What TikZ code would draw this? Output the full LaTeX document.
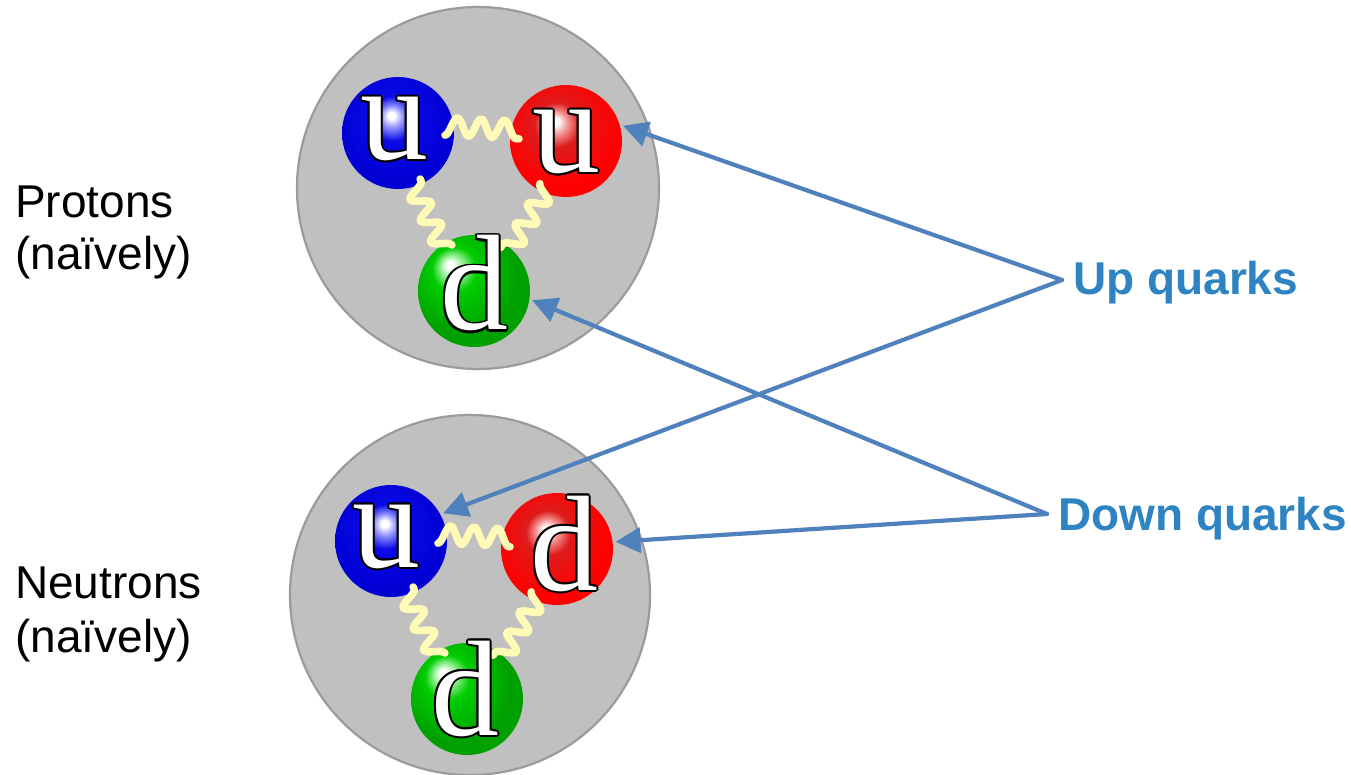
\documentclass[tikz,border=0pt]{standalone}
\usepackage{fontspec}
\setmainfont{Liberation Sans}
\newfontfamily\quarkfont{Liberation Serif}
\usetikzlibrary{arrows.meta,decorations,calc}

% palette
\definecolor{hadronfill}{RGB}{192,192,192}
\definecolor{hadronrim}{RGB}{155,155,155}
\definecolor{arrowblue}{RGB}{79,129,189}
\definecolor{labelblue}{RGB}{46,131,194}
\definecolor{gluoncol}{RGB}{255,250,182}
\definecolor{bluehi}{RGB}{140,140,255}
\definecolor{bluemid}{RGB}{10,10,230}
\definecolor{blueedge}{RGB}{0,0,212}
\definecolor{redhi}{RGB}{245,150,150}
\definecolor{redmid}{RGB}{222,28,28}
\definecolor{rededge}{RGB}{255,0,0}
\definecolor{greenhi}{RGB}{150,240,150}
\definecolor{greenmid}{RGB}{0,205,0}
\definecolor{greenedge}{RGB}{0,160,0}

% glossy quark balls, highlight up and to the left
\pgfdeclareradialshading{qblue}{\pgfpoint{-3bp}{8bp}}{color(0bp)=(white); color(1.5bp)=(white); color(5bp)=(bluehi); color(10bp)=(bluemid); color(25bp)=(blueedge); color(50bp)=(blueedge)}
\pgfdeclareradialshading{qred}{\pgfpoint{-5bp}{9bp}}{color(0bp)=(white); color(1.5bp)=(white); color(5bp)=(redhi); color(10bp)=(redmid); color(25bp)=(rededge); color(50bp)=(rededge)}
\pgfdeclareradialshading{qgreen}{\pgfpoint{-11bp}{12bp}}{color(0bp)=(white); color(1.5bp)=(white); color(5bp)=(greenhi); color(10bp)=(greenmid); color(25bp)=(greenedge); color(50bp)=(greenedge)}

% one period of a one-sided wave: trough -> crest -> trough, crest on the left
\newcommand\gluonperiod{%
  \pgfpathcurveto{\pgfpoint{0.182*\pgfdecorationsegmentlength}{0pt}}%
                 {\pgfpoint{0.318*\pgfdecorationsegmentlength}{\pgfdecorationsegmentamplitude}}%
                 {\pgfpoint{0.5*\pgfdecorationsegmentlength}{\pgfdecorationsegmentamplitude}}%
  \pgfpathcurveto{\pgfpoint{0.682*\pgfdecorationsegmentlength}{\pgfdecorationsegmentamplitude}}%
                 {\pgfpoint{0.818*\pgfdecorationsegmentlength}{0pt}}%
                 {\pgfpoint{\pgfdecorationsegmentlength}{0pt}}}
\pgfdeclaredecoration{gluonwave}{first}{
  \state{first}[width=\pgfdecorationsegmentlength, next state=wave]{
    \pgfpathmoveto{\pgfpointorigin}\gluonperiod}
  \state{wave}[switch if less than=\pgfdecorationsegmentlength to final,
               width=\pgfdecorationsegmentlength]{\gluonperiod}
  \state{final}{\pgfpathlineto{\pgfpointdecoratedpathlast}}
}

\tikzset{
  hadron/.style={circle, inner sep=0pt, fill=hadronfill, draw=hadronrim, line width=2.2pt},
  quark/.style={circle, minimum size=112pt, inner sep=0pt, outer sep=3pt},
  gluon/.style={draw=gluoncol, line width=7.5pt, line cap=round, line join=round,
    decorate, decoration={gluonwave, segment length=23.6pt, amplitude=18pt}},
  qtext/.style={anchor=base, inner sep=0pt, font=\quarkfont\fontsize{136}{136}\selectfont},
  sidelabel/.style={anchor=base west, inner sep=0pt, font=\fontsize{46}{46}\selectfont},
  flavour/.style={anchor=base west, inner sep=0pt, text=labelblue,
    font=\bfseries\fontsize{46}{46}\selectfont},
  qarrow/.style={draw=arrowblue, line width=4.2pt, line cap=round,
    -{Triangle[length=25pt,width=25pt]}},
}

% white letter with a thin black outline
\newcommand\quarkletter[3]{%
  \foreach \a in {0,30,...,330}
    \node[qtext, text=black] at ($(#2)+(\a:2)$) {#3};
  \node[qtext, text=white] (#1) at (#2) {#3};}

\begin{document}
\begin{tikzpicture}[x=1pt,y=-1pt]
  \useasboundingbox[fill=white] (0,0) rectangle (1351,775);

  % proton
  \node[hadron, minimum size=362pt] (proton) at (478,188) {};
  \node[quark, shading=qblue]  (pu1) at (398,133) {};
  \node[quark, shading=qred]   (pu2) at (566,141) {};
  \node[quark, shading=qgreen] (pd)  at (474,291) {};
  \draw[gluon] ($(pu1)!47pt!(pu2)$) -- ($(pu2)!47pt!(pu1)$);
  \draw[gluon] ($(pu2)!50pt!(pd)$)  -- ($(pd)!51pt!(pu2)$);
  \draw[gluon] ($(pd)!51pt!(pu1)$)  -- ($(pu1)!51pt!(pd)$);
  \quarkletter{pu1l}{394,160}{u}
  \quarkletter{pu2l}{566,173}{u}
  \quarkletter{pdl}{474,330}{d}

  % neutron
  \node[hadron, minimum size=360pt] (neutron) at (470,595) {};
  \node[quark, shading=qblue]  (nu)  at (391,541) {};
  \node[quark, shading=qred]   (nd1) at (557,549) {};
  \node[quark, shading=qgreen] (nd2) at (467,699) {};
  \draw[gluon] ($(nu)!47pt!(nd1)$)  -- ($(nd1)!47pt!(nu)$);
  \draw[gluon] ($(nd1)!50pt!(nd2)$) -- ($(nd2)!51pt!(nd1)$);
  \draw[gluon] ($(nd2)!51pt!(nu)$)  -- ($(nu)!51pt!(nd2)$);
  \quarkletter{nul}{386,567}{u}
  \quarkletter{nd1l}{564,590}{d}
  \quarkletter{nd2l}{465,735}{d}

  % side labels
  \node[sidelabel] (ptitle) at (15,218) {Protons};
  \node[sidelabel] (pnote)  at (15,270) {(naïvely)};
  \node[sidelabel] (ntitle) at (15,598) {Neutrons};
  \node[sidelabel] (nnote)  at (15,652) {(naïvely)};

  % flavour labels and pointers
  \node[flavour] (upq)   at (1073,295) {Up quarks};
  \node[flavour] (downq) at (1058,530) {Down quarks};
  \coordinate (upsrc)   at (1062,280);
  \coordinate (downsrc) at (1047,514);
  \draw[qarrow] (upsrc) -- (pu2.15);
  \draw[qarrow] (upsrc) -- (nu.28);
  \draw[qarrow] (downsrc) -- (pd.-9);
  \draw[qarrow] (downsrc) -- (nd1.7);
\end{tikzpicture}
\end{document}
